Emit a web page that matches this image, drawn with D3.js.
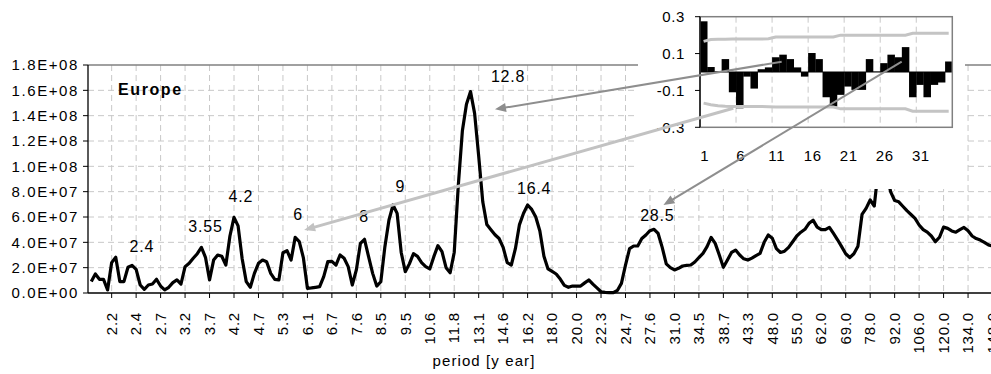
<!DOCTYPE html>
<html><head><meta charset="utf-8">
<script src="https://cdn.jsdelivr.net/npm/d3@7"></script>
<style>
body{margin:0;background:#fff}
svg{display:block}
text{font-family:"Liberation Sans",Arial,sans-serif;fill:#000}
</style>
</head><body>
<svg id="c" width="991" height="374"></svg>
<script>
// ---------- DATA ----------
// main series: spectral power per period category (in units of 1E+07)
const powerE7 = [
0.9,1.5,1.08,1.08,0.24,2.4,2.82,0.9,0.9,2.03,
2.18,1.87,0.63,0.29,0.63,0.71,1.08,0.55,0.24,0.45,
0.82,1.03,0.71,2.08,2.34,2.74,3.1,3.6,2.82,1.03,
2.6,3.0,2.9,2.21,4.5,5.97,5.3,2.7,0.9,0.45,
1.55,2.34,2.6,2.47,1.55,1.08,1.03,3.18,3.34,2.6,
4.39,4.05,2.8,0.37,0.4,0.45,0.5,1.29,2.47,2.5,
2.2,3.0,2.74,2.08,0.63,1.82,3.92,4.24,2.87,1.55,
0.55,
0.89,3.66,5.76,6.95,6.29,3.2,1.68,2.3,3.1,2.9,
2.4,2.08,1.9,2.87,3.74,3.26,2.0,1.6,3.2,8.5,
12.8,14.9,15.9,14.18,10.8,7.2,5.4,5.0,4.6,4.3,
3.6,2.4,2.21,3.5,5.4,6.3,6.95,6.6,6.0,4.9,
2.9,1.9,1.7,1.5,1.1,0.6,0.45,0.55,0.55,0.55,
0.8,1.03,0.7,0.4,0.1,0.05,0.03,0.03,0.2,0.76,
2.2,3.5,3.71,3.71,4.3,4.58,4.92,5.03,4.7,3.6,
2.3,2.0,1.82,1.95,2.13,2.18,2.21,2.45,2.8,3.13,
3.66,4.39,3.92,3.0,2.03,2.6,3.2,3.39,3.0,2.7,
2.6,2.75,2.95,3.13,4.0,4.58,4.32,3.5,3.2,3.3,
3.6,4.05,4.5,4.8,5.03,5.5,
5.75,
5.2,5.0,5.0,5.18,4.7,4.2,3.66,3.1,2.8,3.1,
3.7,6.2,6.68,7.34,6.87,9.8,10.4,9.6,8.0,7.3,
7.2,6.85,6.5,6.2,5.89,5.37,5.0,4.8,4.5,4.05,
4.4,5.2,5.1,4.9,4.8,5.0,5.18,4.92,4.5,4.3,
4.18,4.0,3.8,3.7
];
// period tick labels (one every 6 categories)
const periodTicks = ["2.2","2.4","2.7","3.2","3.7","4.2","4.7","5.3","6.1","6.7","7.6","8.5","9.5","10.6","11.8","13.1","14.6","16.2","18.0","20.0","22.3","24.7","27.6","31.0","34.5","38.7","43.3","48.0","55.0","62.0","69.0","78.0","92.0","106.0","120.0","134.0","148.0"];
const yTicks = [0,2e7,4e7,6e7,8e7,1e8,1.2e8,1.4e8,1.6e8,1.8e8];
const peakTexts = ["2.4","3.55","4.2","6","8","9","12.8","16.4","28.5"];
const peakCat   = [12.4,28.0,36.7,50.7,66.9,75.8,102.2,108.6,138.8];
const peakValE7 = [3.26,4.82,7.21,5.76,5.63,8.0,16.63,7.82,5.72];

// inset: autocorrelation by lag with confidence bands
const lags = d3.range(1,36);
const acf = [0.275,0.027,0.003,0.07,-0.11,-0.197,-0.025,-0.09,0.015,0.025,
0.08,0.094,0.07,0.025,-0.025,0.103,0.07,-0.137,-0.187,-0.124,
-0.079,-0.097,-0.097,0.07,0.002,0.048,0.094,0.08,0.135,-0.137,
-0.07,-0.137,-0.07,-0.057,0.057];
const upperBand = [0.166,0.176,0.178,0.178,0.179,0.179,0.179,0.179,0.179,0.18,
0.19,0.19,0.19,0.19,0.19,0.19,0.19,0.19,0.19,0.2,
0.2,0.2,0.2,0.2,0.2,0.2,0.2,0.2,0.2,0.21,
0.21,0.21,0.21,0.21,0.21];
const lowerBand = [-0.169,-0.178,-0.183,-0.186,-0.187,-0.187,-0.187,-0.187,-0.187,-0.188,
-0.19,-0.19,-0.19,-0.19,-0.19,-0.19,-0.19,-0.19,-0.19,-0.2,
-0.2,-0.2,-0.2,-0.2,-0.2,-0.2,-0.2,-0.2,-0.2,-0.213,
-0.213,-0.213,-0.213,-0.213,-0.213];
const lagTicks = [1,6,11,16,21,26,31];
const acfTicks = [0.3,0.1,-0.1,-0.3];
// arrows: from (lag, acf) in inset to (category, power) in main chart
const arrowFromLag = [11.83,5.12,28.48];
const arrowFromAcf = [0.056,-0.197,0.056];
const arrowToCat   = [99.0,52.2,140.3];
const arrowToE7    = [14.5,4.97,6.95];
const arrowColor   = ["#8e8e8e","#c2c2c2","#8e8e8e"];
const arrowWidth   = [2,3,2];

// ---------- LAYOUT ----------
const W = 991, H = 374;
const svg = d3.select("#c");
const L = 88, T = 65, B = 293;
const x = d3.scaleLinear().domain([-1, 221]).range([87.2, 87.2 + 222*4.078]);
const y = d3.scaleLinear().domain([0, 1.8e8]).range([B, T]);
const grid = "#c8c8c8";
const fmtE = v => {
  const [m, e] = v.toExponential(1).split("e");
  const s = e[0] === "-" ? "-" : "+";
  const d = e.replace(/[+-]/, "").padStart(2, "0");
  return m + "E" + s + d;
};
const tickX = k => x(5 + 6*k);

// gridlines
svg.append("g").selectAll("line").data(yTicks.slice(1, -1)).join("line")
  .attr("x1", L).attr("x2", W).attr("y1", d => y(d)).attr("y2", d => y(d))
  .attr("stroke", grid).attr("stroke-dasharray", "6,4");
svg.append("g").selectAll("line").data(periodTicks).join("line")
  .attr("x1", (d,k) => tickX(k)).attr("x2", (d,k) => tickX(k))
  .attr("y1", T).attr("y2", B)
  .attr("stroke", grid).attr("stroke-dasharray", "6,4");
// top border
svg.append("line").attr("x1", L).attr("x2", W).attr("y1", T).attr("y2", T)
  .attr("stroke", "#808080").attr("stroke-width", 1.3);

// series line
svg.append("path").datum(powerE7)
  .attr("d", d3.line().x((d,i) => x(i)).y(d => y(d*1e7)))
  .attr("fill", "none").attr("stroke", "#000").attr("stroke-width", 3.2)
  .attr("stroke-linejoin", "round");

// axes
svg.append("line").attr("x1", L).attr("x2", L).attr("y1", T).attr("y2", B).attr("stroke", "#000").attr("stroke-width", 1.3);
svg.append("line").attr("x1", L).attr("x2", W).attr("y1", B).attr("y2", B).attr("stroke", "#000").attr("stroke-width", 1.3);
svg.append("g").selectAll("line").data(yTicks).join("line")
  .attr("x1", L-5).attr("x2", L).attr("y1", d => y(d)).attr("y2", d => y(d)).attr("stroke", "#000");
svg.append("g").selectAll("text").data(yTicks).join("text")
  .attr("x", 79).attr("y", d => y(d)).attr("dy", "0.35em").attr("text-anchor", "end")
  .attr("font-size", 15).attr("letter-spacing", 1.6).text(fmtE);
svg.append("g").selectAll("line").data(periodTicks).join("line")
  .attr("x1", (d,k) => tickX(k)).attr("x2", (d,k) => tickX(k)).attr("y1", B).attr("y2", B+5).attr("stroke", "#000");
svg.append("g").selectAll("text").data(periodTicks).join("text")
  .attr("transform", (d,k) => `translate(${tickX(k)},312) rotate(-90)`)
  .attr("dy", "0.35em").attr("text-anchor", "end")
  .attr("font-size", 15).attr("letter-spacing", 0.8).text(d => d);
svg.append("text").attr("x", 484).attr("y", 366).attr("text-anchor", "middle")
  .attr("font-size", 15).attr("letter-spacing", 1.1).text("period [y ear]");

// labels
svg.append("text").attr("x", 118).attr("y", 95).attr("font-size", 16).attr("font-weight", "bold")
  .attr("letter-spacing", 1.6).text("Europe");
svg.append("g").selectAll("text").data(peakTexts).join("text")
  .attr("x", (d,i) => x(peakCat[i])).attr("y", (d,i) => y(peakValE7[i]*1e7))
  .attr("text-anchor", "middle").attr("font-size", 16).attr("letter-spacing", 0.8).text(d => d);

// ---------- INSET ----------
svg.append("rect").attr("x", 638).attr("y", 0).attr("width", 327).attr("height", 189).attr("fill", "#fff");
const xi = d3.scaleLinear().domain([0.5, 35.5]).range([700, 952.3]);
const yi = d3.scaleLinear().domain([-0.3, 0.3]).range([127.3, 16.7]);
svg.append("g").selectAll("line").data([5,10,15,20,25,30]).join("line")
  .attr("x1", d => xi(d+0.5)).attr("x2", d => xi(d+0.5)).attr("y1", yi(0.3)).attr("y2", yi(-0.3))
  .attr("stroke", grid).attr("stroke-dasharray", "6,4");
svg.append("g").selectAll("rect").data(acf).join("rect")
  .attr("x", (d,i) => xi(lags[i]-0.5)).attr("width", xi(1.5)-xi(0.5)+0.3)
  .attr("y", d => yi(Math.max(0,d))).attr("height", d => Math.abs(yi(d)-yi(0)))
  .attr("fill", "#000");
svg.append("line").attr("x1", xi(0.5)).attr("x2", xi(35.5)).attr("y1", yi(0)).attr("y2", yi(0)).attr("stroke", "#000");
[upperBand, lowerBand].forEach(band => {
  svg.append("path").datum(band)
    .attr("d", d3.line().x((d,i) => xi(lags[i])).y(d => yi(d)))
    .attr("fill", "none").attr("stroke", "#c4c4c4").attr("stroke-width", 3);
});
svg.append("rect").attr("x", xi(0.5)).attr("y", yi(0.3)).attr("width", xi(35.5)-xi(0.5)).attr("height", yi(-0.3)-yi(0.3))
  .attr("fill", "none").attr("stroke", "#808080").attr("stroke-width", 1.5);
svg.append("line").attr("x1", xi(0.5)).attr("x2", xi(0.5)).attr("y1", yi(0.3)).attr("y2", yi(-0.3)).attr("stroke", "#000").attr("stroke-width", 1.3);
svg.append("g").selectAll("line").data(acfTicks).join("line")
  .attr("x1", xi(0.5)-5).attr("x2", xi(0.5)).attr("y1", d => yi(d)).attr("y2", d => yi(d)).attr("stroke", "#000");
svg.append("g").selectAll("text").data(acfTicks).join("text")
  .attr("x", 685).attr("y", d => yi(d)).attr("dy", "0.35em").attr("text-anchor", "end")
  .attr("font-size", 15).attr("letter-spacing", 0.6).text(d => d3.format(".1f")(d).replace("−","-"));
svg.append("g").selectAll("text").data(lagTicks).join("text")
  .attr("x", d => xi(d)+1).attr("y", 161).attr("text-anchor", "middle")
  .attr("font-size", 15).attr("letter-spacing", 0.6).text(d => d);

// ---------- ARROWS ----------
arrowFromLag.forEach((lg, i) => {
  const x1 = xi(lg), y1 = yi(arrowFromAcf[i]);
  const x2 = x(arrowToCat[i]), y2 = y(arrowToE7[i]*1e7);
  const dx = x2-x1, dy = y2-y1, len = Math.hypot(dx, dy);
  const ux = dx/len, uy = dy/len, hl = 11, hw = 4.5;
  const bx = x2 - ux*hl, by = y2 - uy*hl;
  svg.append("line").attr("x1", x1).attr("y1", y1).attr("x2", bx+ux*2).attr("y2", by+uy*2)
    .attr("stroke", arrowColor[i]).attr("stroke-width", arrowWidth[i]);
  svg.append("polygon")
    .attr("points", [[x2,y2],[bx-uy*hw, by+ux*hw],[bx+uy*hw, by-ux*hw]].map(p => p.join(",")).join(" "))
    .attr("fill", arrowColor[i]);
});
</script>
</body></html>
